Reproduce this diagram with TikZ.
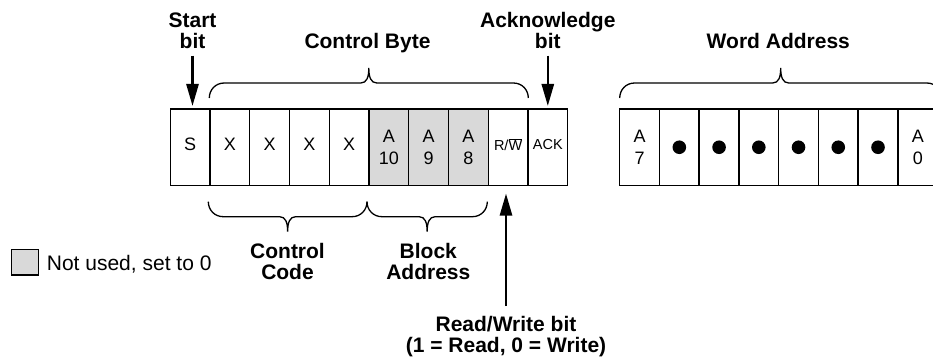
\documentclass[tikz,border=0pt]{standalone}
\usepackage{fontspec}
\setmainfont{Liberation Sans}
\usetikzlibrary{arrows.meta}
\usetikzlibrary{positioning}
\usetikzlibrary{backgrounds}

\newcommand{\lblfont}{\fontsize{21}{21}\selectfont\bfseries}
\newcommand{\cellfont}{\fontsize{18}{22.5}\selectfont}
\newcommand{\flagfont}{\fontsize{14.5}{15}\selectfont}

\begin{document}
\begin{tikzpicture}[x=1pt, y=-1pt, >={Triangle[length=22pt,width=12pt]}, background rectangle/.style={fill=white}, show background rectangle, inner frame sep=0pt]
\tikzset{
  cell/.style={draw, line width=1.4pt, minimum width=39.74pt, minimum height=76.5pt, inner sep=0pt, outer sep=0pt, align=center, font=\cellfont},
  bit/.style={cell, text depth=6pt},
  unused/.style={cell, fill=black!15},
  lbl/.style={font=\lblfont, align=center, inner sep=0pt},
  arr/.style={->, line width=2.6pt},
  pics/curly/.style={code={
    \draw[line width=1.3pt] (0,0) .. controls (0,-8) and (6,-15) .. (15,-15) -- ({#1/2-8},-15) .. controls ({#1/2-2},-15) and ({#1/2},-21) .. ({#1/2},-30) .. controls ({#1/2},-21) and ({#1/2+2},-15) .. ({#1/2+8},-15) -- ({#1-15},-15) .. controls ({#1-6},-15) and (#1,-8) .. (#1,0);
  }}
}

\useasboundingbox (0,0) rectangle (933,358);

% control byte cells
\node[bit] (s) at (190.17,147.25) {S};
\node[bit, right=0pt of s] (x1) {X};
\node[bit, right=0pt of x1] (x2) {X};
\node[bit, right=0pt of x2] (x3) {X};
\node[bit, right=0pt of x3] (x4) {X};
\node[unused, right=0pt of x4] (a10) {A\\10};
\node[unused, right=0pt of a10] (a9) {A\\9};
\node[unused, right=0pt of a9] (a8) {A\\8};
\node[bit, font=\flagfont, text depth=5pt, right=0pt of a8] (rw) {R/$\overline{\mbox{W}}$};
\node[bit, font=\flagfont, text depth=5pt, right=0pt of rw] (ack) {ACK};

% word address - runs off the right edge
\begin{scope}
\clip (0,0) rectangle (933,358);
\node[cell] (a7) at (639.57,147.25) {A\\7};
\node[cell, right=0pt of a7] (w6) {};
\node[cell, right=0pt of w6] (w5) {};
\node[cell, right=0pt of w5] (w4) {};
\node[cell, right=0pt of w4] (w3) {};
\node[cell, right=0pt of w3] (w2) {};
\node[cell, right=0pt of w2] (w1) {};
\node[cell, right=0pt of w1] (a0) {A\\0};
\fill (w6) circle (6.8);
\fill (w5) circle (6.8);
\fill (w4) circle (6.8);
\fill (w3) circle (6.8);
\fill (w2) circle (6.8);
\fill (w1) circle (6.8);
\pic at (619.7,98) {curly=322};
\end{scope}

% braces
\pic at (209.3,98) {curly=319};
\pic[yscale=-1] at (208.3,201.7) {curly=158.7};
\pic[yscale=-1] at (367,201.7) {curly=120.3};

% labels (base = last line)
\node[lbl, anchor=base] (startlbl) at (192.5,48.3) {Start\\bit};
\node[lbl, anchor=base] (bytelbl) at (367.5,48.3) {Control Byte};
\node[lbl, anchor=base] (acklbl) at (547.8,48.3) {Acknowledge\\bit};
\node[lbl, anchor=base] (wordlbl) at (778.3,48.3) {Word Address};
\node[lbl, anchor=base] (codelbl) at (287.5,279.3) {Control\\Code};
\node[lbl, anchor=base] (blocklbl) at (428.3,279.3) {Block\\Address};
\node[lbl, anchor=base] (rwlbl) at (506,352.5) {Read/Write bit\\(1 = Read, 0 = Write)};

\draw[arr, shorten >=3pt] ([yshift=-7pt]startlbl.south) -- (startlbl.south |- s.north);
\draw[arr, shorten >=3pt] ([yshift=-7pt]acklbl.south) -- (acklbl.south |- ack.north);
\draw[arr, shorten >=8pt] ([yshift=10pt]rwlbl.north) -- (rwlbl.north |- rw.south);

% key
\node[draw, line width=1.2pt, fill=black!15, minimum width=26.6pt, minimum height=25.7pt, inner sep=0pt] (key) at (25,262.2) {};
\node[anchor=base west, inner sep=0pt, font=\fontsize{21}{21}\selectfont] (keylbl) at (46.7,270.7) {Not used, set to 0};

\end{tikzpicture}
\end{document}
